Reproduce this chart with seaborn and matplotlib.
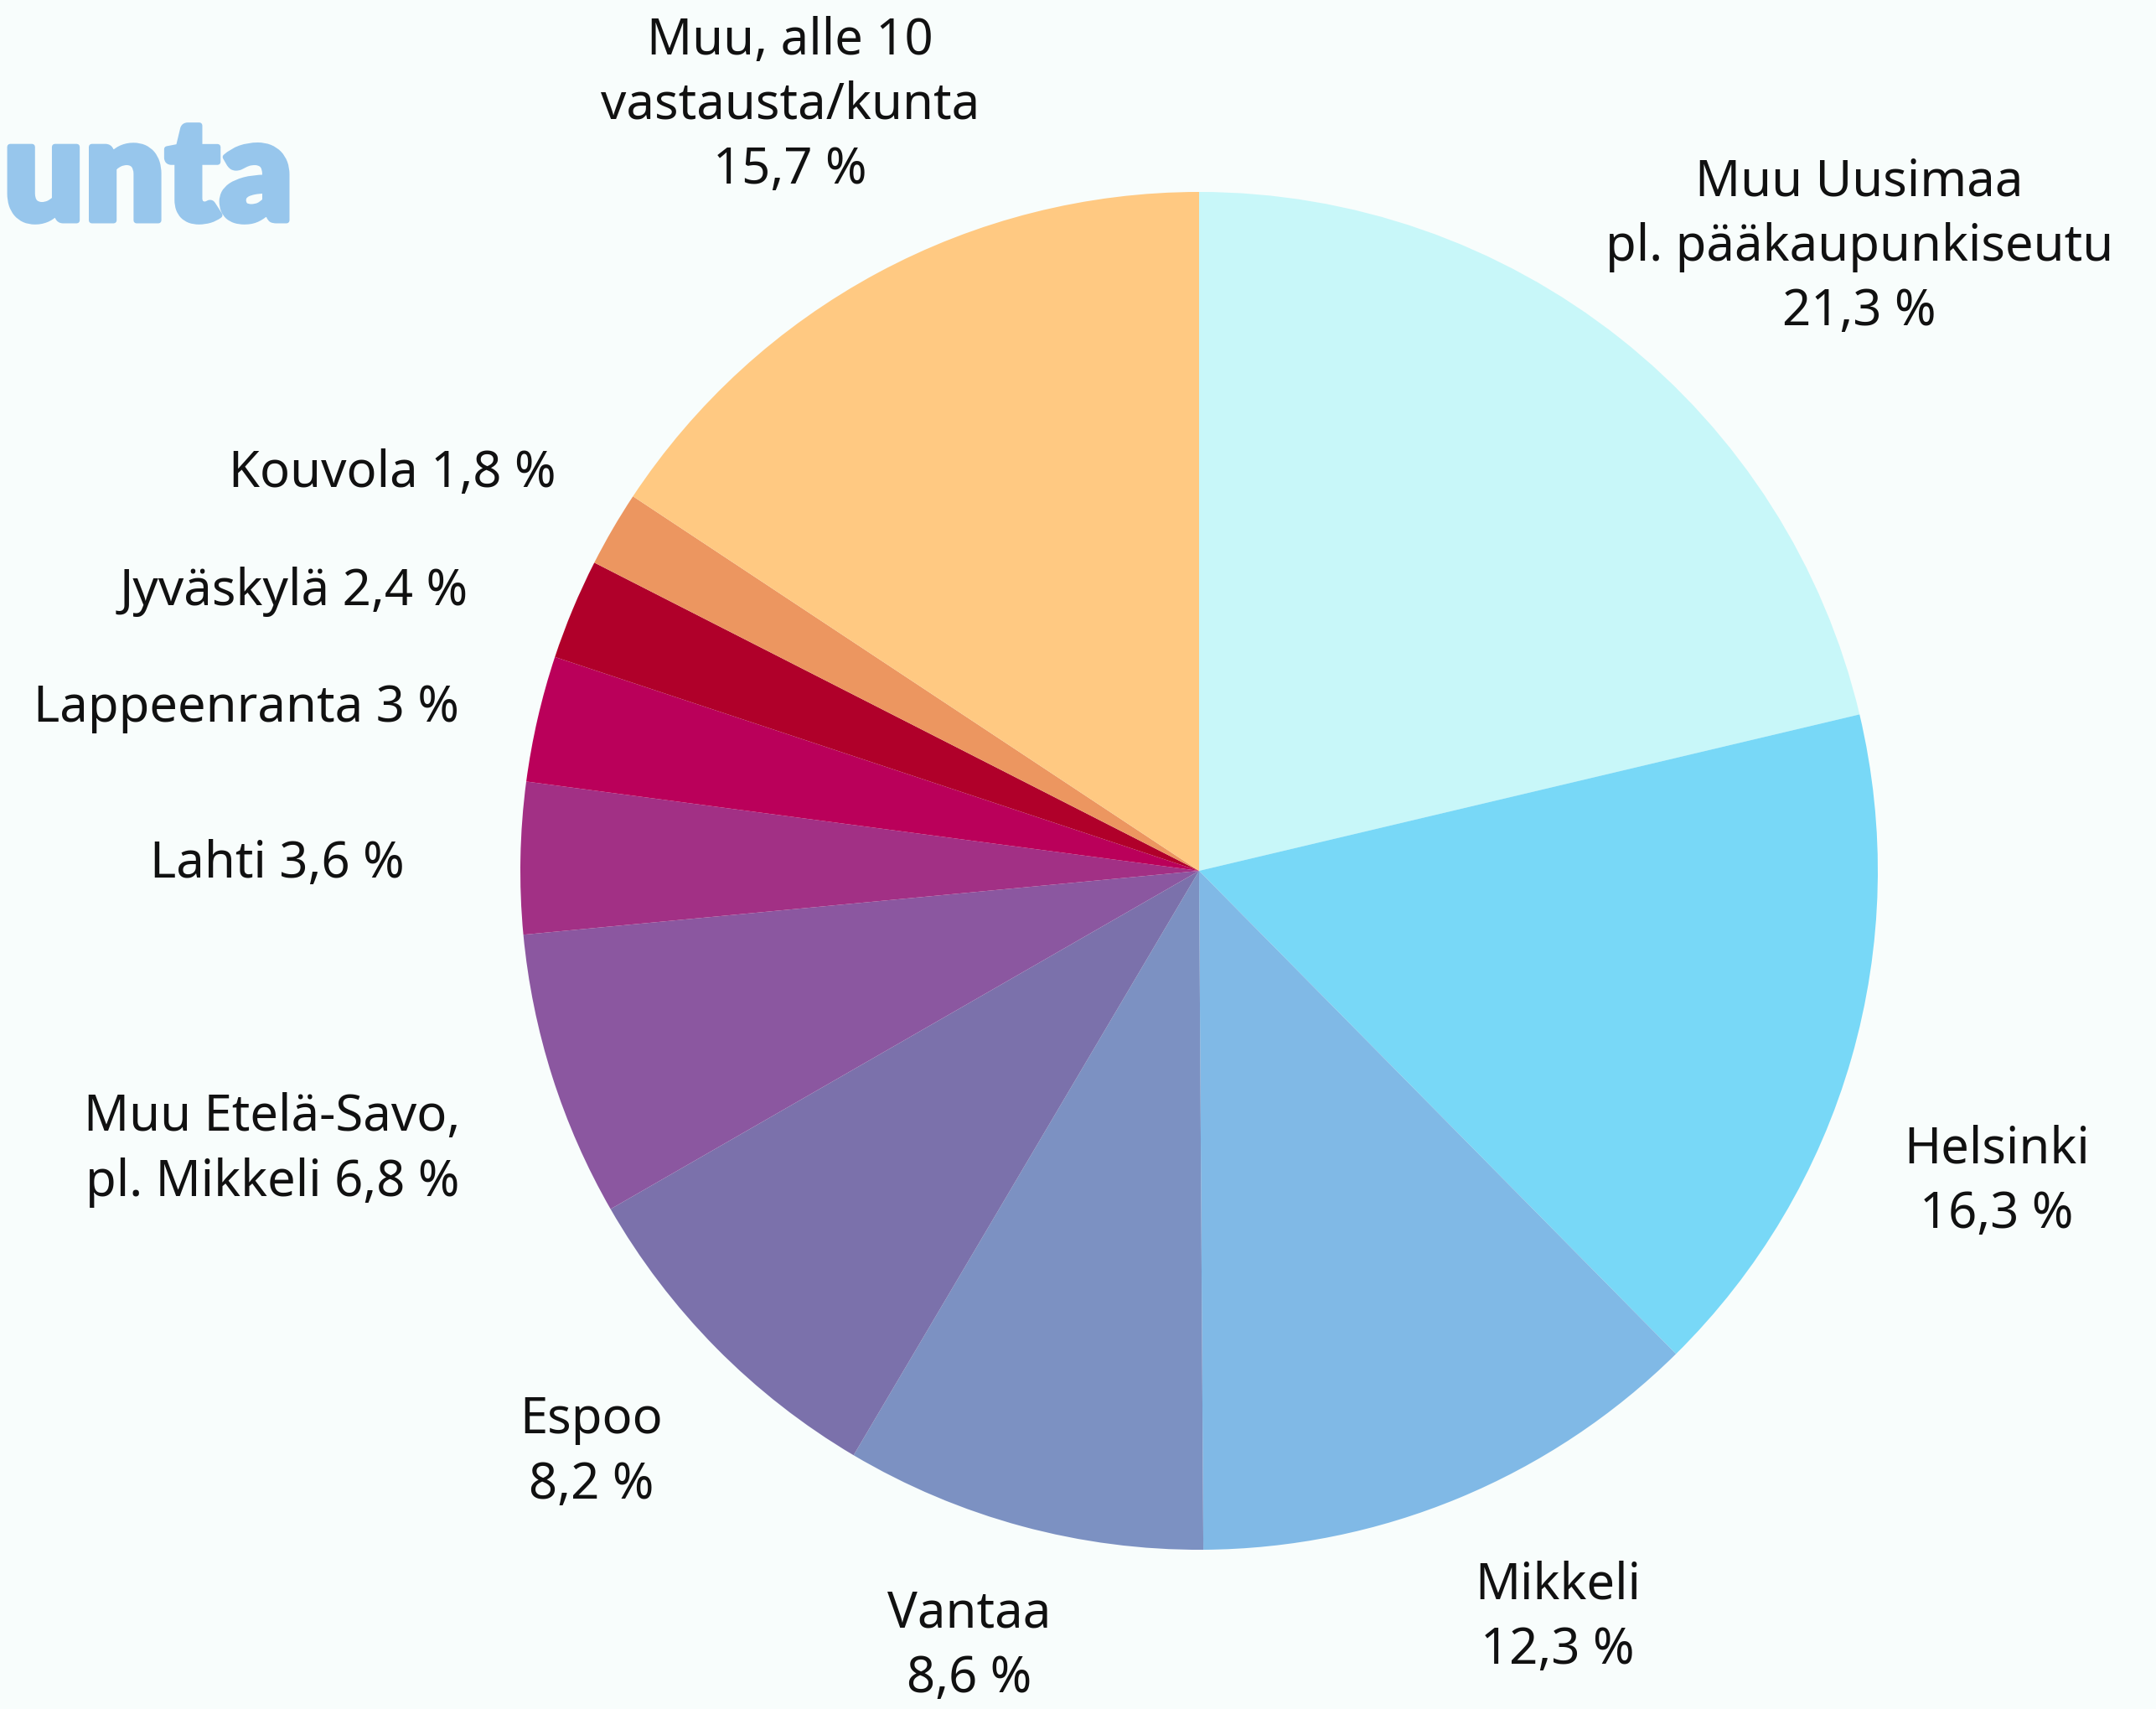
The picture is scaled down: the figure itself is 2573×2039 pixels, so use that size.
import matplotlib
matplotlib.use("Agg")
import matplotlib.pyplot as plt
import matplotlib.patheffects as pe
import seaborn as sns

categories = ["Muu Uusimaa\npl. pääkaupunkiseutu", "Helsinki", "Mikkeli", "Vantaa", "Espoo",
              "Muu Etelä-Savo,\npl. Mikkeli", "Lahti", "Lappeenranta", "Jyväskylä", "Kouvola",
              "Muu, alle 10\nvastausta/kunta"]
values = [21.3, 16.3, 12.3, 8.6, 8.2, 6.8, 3.6, 3.0, 2.4, 1.8, 15.7]
label_texts = ["Muu Uusimaa\npl. pääkaupunkiseutu\n21,3 %", "Helsinki\n16,3 %", "Mikkeli\n12,3 %",
               "Vantaa\n8,6 %", "Espoo\n8,2 %", "Muu Etelä-Savo,\npl. Mikkeli 6,8 %",
               "Lahti 3,6 %", "Lappeenranta 3 %", "Jyväskylä 2,4 %", "Kouvola 1,8 %",
               "Muu, alle 10\nvastausta/kunta\n15,7 %"]
colors = ["#C8F7F9", "#78D8F7", "#80B9E6", "#7C91C2", "#7B71AB", "#8B57A0",
          "#A23085", "#BA005A", "#B0002A", "#EC9660", "#FFC982"]
# label anchor positions in pixels (x, y from top)
label_pos = [(2219, 295), (2383, 1410), (1859, 1930), (1157, 1964), (706, 1733),
             (325, 1372), (331, 1031), (294, 845), (351, 706), (468, 565), (943, 126)]

W, H = 2573, 2039
bg = "#F8FDFC"
sns.set_theme(style="white")
plt.rcParams['font.family'] = ['Noto Sans', 'DejaVu Sans']

fig = plt.figure(figsize=(W / 100, H / 100), dpi=100, facecolor=bg)
cx, cy, r = 1431, 1039, 810
ax = fig.add_axes([(cx - r) / W, (H - cy - r) / H, 2 * r / W, 2 * r / H])
ax.set_facecolor(bg)
pal = sns.color_palette(colors)
ax.pie(values, colors=pal, startangle=90, counterclock=False, radius=1,
       wedgeprops=dict(linewidth=0))
ax.set_xlim(-1, 1)
ax.set_ylim(-1, 1)
ax.set_aspect("equal")
ax.axis("off")

for txt, (px, py) in zip(label_texts, label_pos):
    fig.text(px / W, 1 - py / H, txt, ha="center", va="center", fontsize=43,
             color="#111111", linespacing=1.38)

title_color = "#97C6EC"
fig.text(4 / W, 1 - 263 / H, "unta", ha="left", va="baseline", fontsize=122,
         fontweight="heavy", color=title_color, family=["Lato", "DejaVu Sans"],
         path_effects=[pe.withStroke(linewidth=5, foreground=title_color)])

fig.savefig("out.png", dpi=100, facecolor=bg)
